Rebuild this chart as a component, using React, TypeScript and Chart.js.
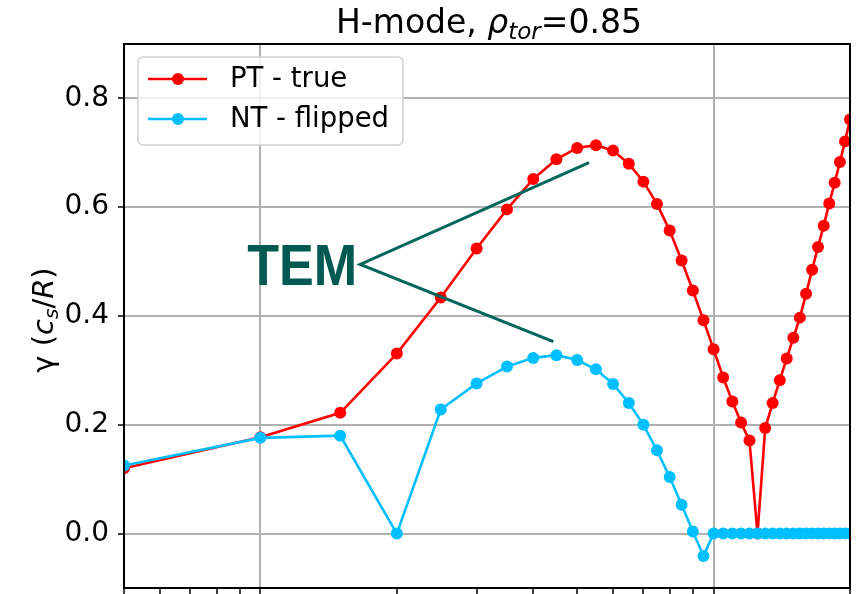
import React, { useEffect, useRef } from "react";
import { Chart, registerables } from "chart.js";

Chart.register(...registerables);

// ---- data ----
const kyValues = [
  0.05, 0.1, 0.15, 0.2, 0.25, 0.3, 0.35, 0.4, 0.45, 0.5,
  0.55, 0.6, 0.65, 0.7, 0.75, 0.8, 0.85, 0.9, 0.95, 1.0,
  1.05, 1.1, 1.15, 1.2, 1.25, 1.3, 1.35, 1.4, 1.45, 1.5,
  1.55, 1.6, 1.65, 1.7, 1.75, 1.8, 1.85, 1.9, 1.95, 2.0,
];
const ptTrue = [
  0.120, 0.177, 0.222, 0.331, 0.434, 0.524, 0.596, 0.652, 0.688, 0.709,
  0.714, 0.704, 0.680, 0.647, 0.606, 0.557, 0.502, 0.447, 0.392, 0.339,
  0.287, 0.243, 0.204, 0.171, 0.0, 0.194, 0.240, 0.282, 0.322, 0.360,
  0.397, 0.441, 0.485, 0.527, 0.566, 0.607, 0.645, 0.683, 0.721, 0.761,
];
const ntFlipped = [
  0.125, 0.176, 0.180, 0.0, 0.228, 0.276, 0.307, 0.323, 0.328, 0.319,
  0.302, 0.275, 0.240, 0.200, 0.153, 0.104, 0.053, 0.004, -0.041, 0.0,
  0.0, 0.0, 0.0, 0.0, 0.0, 0.0, 0.0, 0.0, 0.0, 0.0,
  0.0, 0.0, 0.0, 0.0, 0.0, 0.0, 0.0, 0.0, 0.0, 0.0,
];
const seriesLabels = ["PT - true", "NT - flipped"];
const yTickValues = [0, 0.2, 0.4, 0.6, 0.8];
const xTickValues = [
  0.05, 0.06, 0.07, 0.08, 0.09, 0.1, 0.2, 0.3, 0.4, 0.5, 0.6, 0.7, 0.8, 0.9, 1, 2,
];
const xMajorTicks = [0.1, 1];
const titleParts = ["H-mode, ", "\u03c1", "tor", "=0.85"];
const yLabelParts = ["\u03b3", " (", "c", "s", "/", "R", ")"];
const annotationText = "TEM";
const temApex = { x: 0.166, y: 0.495 };
const temUpper = { x: 0.531, y: 0.682 };
const temLower = { x: 0.443, y: 0.353 };

const RED = "#ff0000";
const BLUE = "#00bfff";
const TEAL = "#00665c";
const GRID = "#b0b0b0";
const FAM = '"DejaVu Sans", sans-serif';
const MARKER_R = 6;

type Part = { text: string; font: string; dy?: number; w?: number };

function drawParts(ctx: CanvasRenderingContext2D, parts: Part[], x: number, y: number) {
  let total = 0;
  for (const p of parts) {
    ctx.font = p.font;
    p.w = ctx.measureText(p.text).width;
    total += p.w;
  }
  let cx = x - total / 2;
  ctx.textAlign = "left";
  ctx.textBaseline = "alphabetic";
  for (const p of parts) {
    ctx.font = p.font;
    ctx.fillText(p.text, cx, y + (p.dy || 0));
    cx += p.w || 0;
  }
}

const overlay = {
  id: "overlay",
  afterDatasetsDraw(chart: any) {
    const { ctx, chartArea: a } = chart;
    ctx.save();
    ctx.strokeStyle = "#000";
    ctx.lineWidth = 2;
    ctx.strokeRect(a.left, a.top, a.right - a.left, a.bottom - a.top);
    ctx.restore();
  },
  afterDraw(chart: any) {
    const { ctx, chartArea: a, scales } = chart;
    const xs = scales.x;
    const ys = scales.y;
    ctx.save();
    ctx.fillStyle = "#000";

    // title
    const ts = 33;
    drawParts(
      ctx,
      [
        { text: titleParts[0], font: `${ts}px ${FAM}` },
        { text: titleParts[1], font: `italic ${ts}px ${FAM}` },
        { text: titleParts[2], font: `italic ${Math.round(ts * 0.7)}px ${FAM}`, dy: 6 },
        { text: titleParts[3], font: `${ts}px ${FAM}` },
      ],
      (a.left + a.right) / 2 + 2,
      a.top - 11
    );

    // y label
    const ls = 29;
    ctx.save();
    ctx.translate(a.left - 71, (a.top + a.bottom) / 2);
    ctx.rotate(-Math.PI / 2);
    drawParts(
      ctx,
      [
        { text: yLabelParts[0], font: `${ls}px ${FAM}` },
        { text: yLabelParts[1], font: `${ls}px ${FAM}` },
        { text: yLabelParts[2], font: `italic ${ls}px ${FAM}` },
        { text: yLabelParts[3], font: `italic ${Math.round(ls * 0.7)}px ${FAM}`, dy: 5 },
        { text: yLabelParts[4], font: `${ls}px ${FAM}` },
        { text: yLabelParts[5], font: `italic ${ls}px ${FAM}` },
        { text: yLabelParts[6], font: `${ls}px ${FAM}` },
      ],
      -4,
      0
    );
    ctx.restore();

    // legend
    const lx = a.left + 14;
    const ly = a.top + 13;
    const lw = 265;
    const lh = 88;
    ctx.beginPath();
    (ctx as any).roundRect(lx, ly, lw, lh, 5);
    ctx.fillStyle = "rgba(255,255,255,0.8)";
    ctx.fill();
    ctx.strokeStyle = "#d0d0d0";
    ctx.lineWidth = 1.5;
    ctx.stroke();
    const colors = [RED, BLUE];
    seriesLabels.forEach((lab, i) => {
      const ry = ly + 22 + i * 40;
      ctx.strokeStyle = colors[i];
      ctx.fillStyle = colors[i];
      ctx.lineWidth = 2.6;
      ctx.beginPath();
      ctx.moveTo(lx + 10, ry);
      ctx.lineTo(lx + 69, ry);
      ctx.stroke();
      ctx.beginPath();
      ctx.arc(lx + 40, ry, MARKER_R, 0, Math.PI * 2);
      ctx.fill();
      ctx.fillStyle = "#000";
      ctx.font = `27.5px ${FAM}`;
      ctx.textAlign = "left";
      ctx.textBaseline = "middle";
      ctx.fillText(lab, lx + 92, ry + 1);
    });

    // TEM annotation
    const ax = xs.getPixelForValue(temApex.x);
    const ay = ys.getPixelForValue(temApex.y);
    const ux = xs.getPixelForValue(temUpper.x);
    const uy = ys.getPixelForValue(temUpper.y);
    const bx = xs.getPixelForValue(temLower.x);
    const by = ys.getPixelForValue(temLower.y);
    ctx.strokeStyle = TEAL;
    ctx.lineWidth = 3;
    ctx.lineCap = "butt";
    ctx.beginPath();
    ctx.moveTo(ux, uy);
    ctx.lineTo(ax, ay);
    ctx.lineTo(bx, by);
    ctx.stroke();

    ctx.font = `bold 57px "Liberation Sans", Arial, sans-serif`;
    const m = ctx.measureText(annotationText);
    const sx = 110 / m.width;
    ctx.save();
    ctx.translate(ax - 3 - 110, ay + 21);
    ctx.scale(sx, 1);
    ctx.fillStyle = "#005a52";
    ctx.textAlign = "left";
    ctx.textBaseline = "alphabetic";
    ctx.fillText(annotationText, 0, 0);
    ctx.restore();

    ctx.restore();
  },
};

export default function App() {
  const ref = useRef<HTMLCanvasElement>(null);
  useEffect(() => {
    const canvas = ref.current;
    if (!canvas) return;
    const mk = (vals: number[]) => kyValues.map((x, i) => ({ x, y: vals[i] }));
    const common = {
      pointBorderWidth: 0,
      pointRadius: MARKER_R,
      pointHoverRadius: MARKER_R,
      borderWidth: 2.6,
      tension: 0,
      clip: 0,
    };
    const chart = new Chart(canvas, {
      type: "line",
      data: {
        datasets: [
          {
            label: seriesLabels[0],
            data: mk(ptTrue),
            borderColor: RED,
            backgroundColor: RED,
            pointBackgroundColor: RED,
            order: 1,
            ...common,
          } as any,
          {
            label: seriesLabels[1],
            data: mk(ntFlipped),
            borderColor: BLUE,
            backgroundColor: BLUE,
            pointBackgroundColor: BLUE,
            order: 0,
            ...common,
          } as any,
        ],
      },
      options: {
        responsive: false,
        animation: false,
        devicePixelRatio: 1,
        events: [],
        layout: { padding: { left: 0, right: 11, top: 44, bottom: 0 } },
        plugins: {
          legend: { display: false },
          title: { display: false },
          tooltip: { enabled: false },
        },
        scales: {
          x: {
            type: "logarithmic",
            min: 0.05,
            max: 2,
            afterBuildTicks: (s: any) => {
              s.ticks = xTickValues.map((v) => ({ value: v }));
            },
            ticks: { display: false },
            grid: {
              color: (c: any) =>
                c.tick && xMajorTicks.includes(c.tick.value) ? GRID : "rgba(0,0,0,0)",
              lineWidth: 2,
              tickColor: "#000",
              tickWidth: 1.5,
              tickLength: 6,
            },
            border: { display: false },
            afterFit: (s: any) => {
              s.height = 2;
              s.paddingLeft = 0;
              s.paddingRight = 0;
            },
          } as any,
          y: {
            type: "linear",
            min: -0.1,
            max: 0.9,
            afterBuildTicks: (s: any) => {
              s.ticks = yTickValues.map((v) => ({ value: v }));
            },
            ticks: {
              color: "#000",
              padding: 9,
              font: { family: "DejaVu Sans", size: 28 },
              callback: (v: any) => Number(v).toFixed(1),
            },
            grid: {
              color: GRID,
              lineWidth: 2,
              tickColor: "#000",
              tickWidth: 1.5,
              tickLength: 6,
            },
            border: { display: false },
            afterFit: (s: any) => {
              s.width = 124;
              s.paddingTop = 0;
              s.paddingBottom = 0;
            },
          } as any,
        },
      },
      plugins: [overlay as any],
    });
    return () => chart.destroy();
  }, []);

  return (
    <div style={{ position: "absolute", left: 0, top: 0, width: 861, height: 594, background: "#fff" }}>
      <canvas ref={ref} width={861} height={594} />
    </div>
  );
}
